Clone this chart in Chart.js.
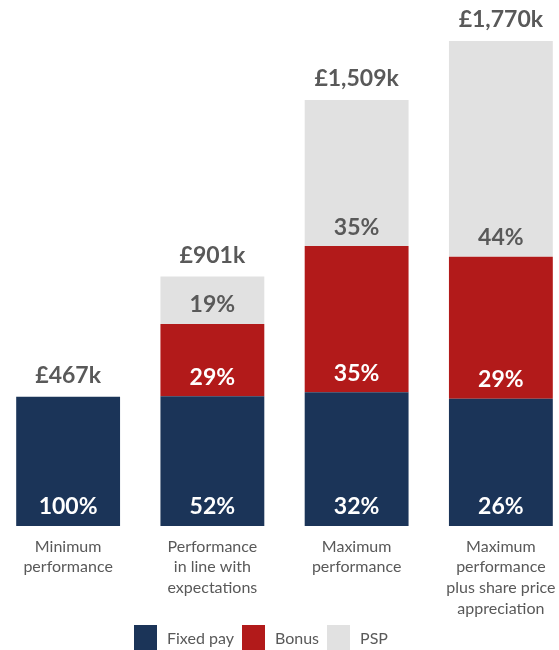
<!DOCTYPE html>
<html>
<head>
<meta charset="utf-8">
<script src="https://cdn.jsdelivr.net/npm/chart.js@4/dist/chart.umd.min.js"></script>
<style>
  html, body { margin: 0; padding: 0; background: #fff; overflow: hidden; width: 559px; height: 650px; }
  #wrap { position: absolute; left: -4px; top: 0; width: 577px; height: 650px; }
  #legend { position: absolute; left: 134px; top: 625px; display: flex; align-items: center; font-family: Lato, sans-serif; font-size: 16px; color: #595959; }
  #legend .box { width: 23px; height: 25px; margin-right: 10px; }
  #legend .item { display: flex; align-items: center; margin-right: 8px; }
</style>
</head>
<body>
<div id="wrap"><canvas id="chart" width="577" height="650"></canvas></div>
<div id="legend"></div>
<script>
// categories (multi-line tick labels)
const categories = [
  ["Minimum", "performance"],
  ["Performance", "in line with", "expectations"],
  ["Maximum", "performance"],
  ["Maximum", "performance", "plus share price", "appreciation"]
];
// £k values per segment
const fixedPay = [467, 469, 483, 460];
const bonus = [0, 261, 528, 513];
const psp = [0, 171, 528, 779];
// labels shown on the chart
const totalLabels = ["£467k", "£901k", "£1,509k", "£1,770k"];
const fixedPct = ["100%", "52%", "32%", "26%"];
const bonusPct = ["", "29%", "35%", "29%"];
const pspPct = ["", "19%", "35%", "44%"];

const colors = { fixed: "#1b3458", bonus: "#b21a1a", psp: "#e1e1e1" };
const textGrey = "#595959";

// legend (HTML)
const legendEl = document.getElementById("legend");
[["Fixed pay", colors.fixed], ["Bonus", colors.bonus], ["PSP", colors.psp]].forEach(([name, c]) => {
  const item = document.createElement("div");
  item.className = "item";
  item.innerHTML = `<div class="box" style="background:${c}"></div><span>${name}</span>`;
  legendEl.appendChild(item);
});

// draws the % labels inside the segments and the totals above the bars
const barLabels = {
  id: "barLabels",
  afterDatasetsDraw(chart) {
    const ctx = chart.ctx;
    const pctSets = [fixedPct, bonusPct, pspPct];
    const pctColors = ["#fff", "#fff", textGrey];
    ctx.save();
    ctx.font = "bold 23px Lato, sans-serif";
    ctx.textAlign = "center";
    ctx.textBaseline = "middle";
    pctSets.forEach((labels, di) => {
      const meta = chart.getDatasetMeta(di);
      meta.data.forEach((bar, i) => {
        if (!labels[i]) return;
        ctx.fillStyle = pctColors[di];
        ctx.fillText(labels[i], bar.x, bar.base - 19);
      });
    });
    const top = chart.getDatasetMeta(2).data;
    const fixedBars = chart.getDatasetMeta(0).data;
    ctx.fillStyle = textGrey;
    totalLabels.forEach((t, i) => {
      const y = Math.min(top[i].y, fixedBars[i].y);
      ctx.fillText(t, top[i].x, y - 21);
    });
    ctx.restore();
  }
};

new Chart(document.getElementById("chart"), {
  type: "bar",
  data: {
    labels: categories,
    datasets: [
      { label: "Fixed pay", data: fixedPay, backgroundColor: colors.fixed },
      { label: "Bonus", data: bonus, backgroundColor: colors.bonus },
      { label: "PSP", data: psp, backgroundColor: colors.psp }
    ]
  },
  options: {
    responsive: false,
    animation: false,
    layout: { padding: 0 },
    datasets: { bar: { barPercentage: 0.72, categoryPercentage: 1, borderWidth: 0 } },
    plugins: { legend: { display: false }, tooltip: { enabled: false } },
    scales: {
      x: {
        stacked: true,
        grid: { display: false },
        border: { display: false },
        ticks: {
          color: textGrey,
          font: { family: "Lato, sans-serif", size: 16, lineHeight: 1.3 },
          padding: 2,
          maxRotation: 0,
          autoSkip: false
        },
        afterFit(scale) { scale.height = 124; }
      },
      y: { stacked: true, display: false, min: 0, max: 1900 }
    }
  },
  plugins: [barLabels]
});
</script>
</body>
</html>
